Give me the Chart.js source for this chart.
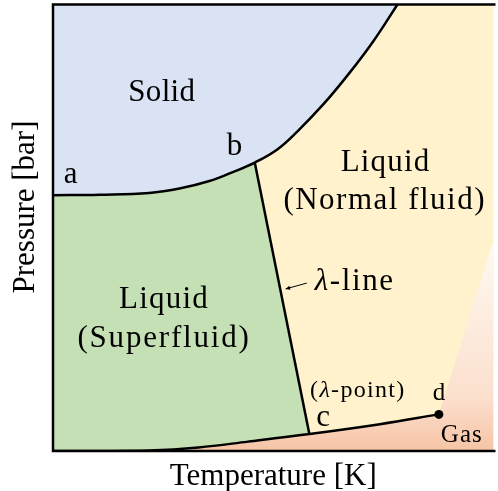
<!DOCTYPE html>
<html>
<head>
<meta charset="utf-8">
<script src="https://cdn.jsdelivr.net/npm/chart.js@4.4.1/dist/chart.umd.min.js"></script>
<style>
  html, body { margin: 0; padding: 0; background: #fff; }
  #wrap { width: 498px; height: 491px; }
</style>
</head>
<body>
<div id="wrap"><canvas id="phase"></canvas></div>
<script>
// boundary curves, arbitrary T / P units (0..100 on both axes)
const meltT = [0, 10.6, 21.8, 29.2, 35.3, 40.4, 45.8, 51.0, 55.5, 61.6, 67.4, 72.8, 78.2];
const meltP = [57.3, 57.4, 57.8, 58.9, 60.4, 62.3, 64.6, 67.6, 71.6, 77.9, 84.8, 91.9, 100];
const lambdaT = [45.8, 58.2];
const lambdaP = [64.6, 3.8];
const vapT = [0, 10.6, 21.8, 33.0, 44.3, 58.2, 74.2, 87.6];
const vapP = [0, 0, 0.1, 0.8, 2.1, 3.8, 6.0, 8.2];
// edge of the gas shading, from d out to the right side
const edgeT = [87.6, 100];
const edgeP = [8.2, 47.2];
const critT = [87.6];
const critP = [8.2];

const AX_MIN = 0, AX_MAX = 100;
const SERIF = '"Liberation Serif", "DejaVu Serif", serif';
const Y_TITLE = 'Pressure [bar]';

const pts = (xs, ys) => xs.map((x, i) => ({ x: x, y: ys[i] }));

// region outlines built from the curves above
const bIdx = meltT.indexOf(lambdaT[0]);
const cIdx = vapT.indexOf(lambdaT[1]);
const solidShape = pts(meltT, meltP).concat([{ x: AX_MIN, y: AX_MAX }]);
const superShape = pts(meltT.slice(0, bIdx + 1), meltP.slice(0, bIdx + 1))
  .concat(pts(lambdaT, lambdaP).slice(1))
  .concat(pts(vapT.slice(0, cIdx), vapP.slice(0, cIdx)).reverse());
const gasShape = pts(vapT, vapP)
  .concat(pts(edgeT, edgeP).slice(1))
  .concat([{ x: AX_MAX, y: AX_MIN }]);

// text placed in data units
const textItems = [
  { parts: [['Solid']], x: 24.7, y: 78.3, size: 31, sp: 0.3 },
  { parts: [['a']], x: 4.0, y: 60.0, size: 31, sp: 0 },
  { parts: [['b']], x: 41.2, y: 66.4, size: 31, sp: 0 },
  { parts: [['Liquid']], x: 75.5, y: 62.6, size: 31, sp: 1.2 },
  { parts: [['(Normal fluid)']], x: 75.3, y: 54.1, size: 31, sp: 1.5 },
  { parts: [['λ', true], ['-line']], x: 68.5, y: 36.0, size: 31, sp: 1.6 },
  { parts: [['Liquid']], x: 25.2, y: 32.0, size: 31, sp: 1.2 },
  { parts: [['(Superfluid)']], x: 25.2, y: 23.3, size: 31, sp: 1.8 },
  { parts: [['('], ['λ', true], ['-point)']], x: 69.2, y: 12.1, size: 24, sp: 1.3 },
  { parts: [['c']], x: 61.3, y: 5.6, size: 31, sp: 0 },
  { parts: [['d']], x: 87.6, y: 11.4, size: 25, sp: 0 },
  { parts: [['Gas']], x: 92.8, y: 2.0, size: 25, sp: 1 }
];
const arrowFrom = { x: 57.6, y: 37.6 };
const arrowTo = { x: 52.8, y: 36.3 };

const gasFill = (context) => {
  const chart = context.chart;
  const a = chart.chartArea;
  if (!a) return '#f8cbad';
  const y0 = a.bottom;
  const y1 = a.bottom - (a.bottom - a.top) * edgeP[1] / AX_MAX;
  if (!isFinite(y0) || !isFinite(y1)) return '#f8cbad';
  const g = chart.ctx.createLinearGradient(0, y0, 0, y1);
  g.addColorStop(0, '#f6c4a5');
  g.addColorStop(0.25, '#fbdfcd');
  g.addColorStop(1, '#fffaf2');
  return g;
};

const decor = {
  id: 'decor',
  beforeDatasetsDraw(chart) {
    const { ctx, chartArea: a } = chart;
    ctx.save();
    ctx.fillStyle = '#fff2cc';
    ctx.fillRect(a.left, a.top, a.right - a.left, a.bottom - a.top);
    ctx.restore();
  },
  afterDatasetsDraw(chart) {
    const { ctx, chartArea: a, scales: { x, y } } = chart;
    ctx.save();
    // frame: left, top, bottom
    ctx.strokeStyle = '#000';
    ctx.lineWidth = 2.5;
    ctx.beginPath();
    ctx.moveTo(a.right + 2, a.top);
    ctx.lineTo(a.left, a.top);
    ctx.lineTo(a.left, a.bottom);
    ctx.lineTo(a.right + 2, a.bottom);
    ctx.stroke();

    // labels
    ctx.fillStyle = '#000';
    ctx.textBaseline = 'alphabetic';
    ctx.textAlign = 'left';
    textItems.forEach(item => {
      const fonts = item.parts.map(p => (p[1] ? 'italic ' : '') + item.size + 'px ' + SERIF);
      ctx.letterSpacing = item.sp + 'px';
      let total = 0;
      const widths = item.parts.map((p, i) => {
        ctx.font = fonts[i];
        const w = ctx.measureText(p[0]).width;
        total += w;
        return w;
      });
      let px = x.getPixelForValue(item.x) - total / 2;
      const py = y.getPixelForValue(item.y);
      item.parts.forEach((p, i) => {
        ctx.font = fonts[i];
        ctx.fillText(p[0], px, py);
        px += widths[i];
      });
    });
    ctx.letterSpacing = '0px';

    // y axis title, sitting a bit above the middle as in the original
    ctx.save();
    ctx.translate(34, 207);
    ctx.rotate(-Math.PI / 2);
    ctx.font = '31px ' + SERIF;
    ctx.textAlign = 'center';
    ctx.fillText(Y_TITLE, 0, 0);
    ctx.restore();

    // little arrow to the lambda line
    const x0 = x.getPixelForValue(arrowFrom.x), y0 = y.getPixelForValue(arrowFrom.y);
    const x1 = x.getPixelForValue(arrowTo.x), y1 = y.getPixelForValue(arrowTo.y);
    const ang = Math.atan2(y1 - y0, x1 - x0);
    ctx.lineWidth = 1;
    ctx.beginPath();
    ctx.moveTo(x0, y0);
    ctx.lineTo(x1, y1);
    ctx.stroke();
    ctx.beginPath();
    ctx.moveTo(x1, y1);
    ctx.lineTo(x1 - 5 * Math.cos(ang - 0.45), y1 - 5 * Math.sin(ang - 0.45));
    ctx.lineTo(x1 - 5 * Math.cos(ang + 0.45), y1 - 5 * Math.sin(ang + 0.45));
    ctx.closePath();
    ctx.fill();
    ctx.restore();
  }
};

const curve = (data, smooth) => ({
  data: data,
  borderColor: '#000',
  borderWidth: 2.5,
  pointRadius: 0,
  fill: false,
  tension: smooth ? 0.4 : 0
});
const region = (data, color) => ({
  data: data,
  borderWidth: 0,
  borderColor: 'rgba(0,0,0,0)',
  backgroundColor: color,
  pointRadius: 0,
  fill: 'shape',
  tension: 0
});

new Chart(document.getElementById('phase'), {
  type: 'line',
  data: {
    datasets: [
      { data: pts(critT, critP), showLine: false, pointRadius: 4.5, pointBackgroundColor: '#000', pointBorderWidth: 0 },
      curve(pts(meltT, meltP), true),
      curve(pts(lambdaT, lambdaP), false),
      curve(pts(vapT, vapP), true),
      region(superShape, '#c5e0b4'),
      region(solidShape, '#dae3f3'),
      region(gasShape, gasFill)
    ]
  },
  options: {
    responsive: true,
    maintainAspectRatio: false,
    animation: false,
    events: [],
    layout: { padding: { top: 4, right: 0, bottom: 0, left: 0 } },
    plugins: { legend: { display: false }, tooltip: { enabled: false } },
    scales: {
      x: {
        type: 'linear', min: AX_MIN, max: AX_MAX,
        grid: { display: false }, border: { display: false },
        ticks: { display: false },
        title: { display: true, text: 'Temperature [K]', color: '#000', font: { family: SERIF, size: 31 }, padding: { top: 0, bottom: -4 } },
        afterFit(s) { s.height = 40; }
      },
      y: {
        type: 'linear', min: AX_MIN, max: AX_MAX,
        grid: { display: false }, border: { display: false },
        ticks: { display: false },
        title: { display: false },
        afterFit(s) { s.width = 53; }
      }
    }
  },
  plugins: [decor]
});
</script>
</body>
</html>
